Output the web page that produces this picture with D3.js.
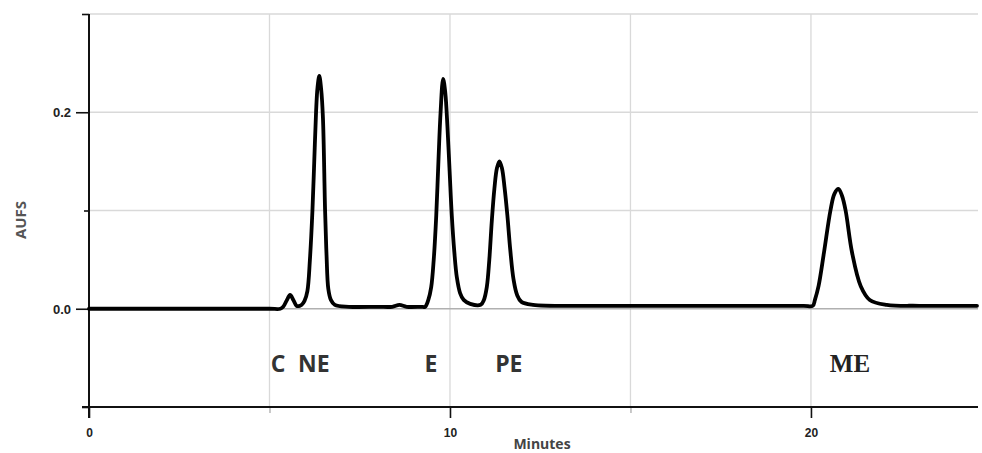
<!DOCTYPE html>
<html>
<head>
<meta charset="utf-8">
<script src="https://cdn.jsdelivr.net/npm/d3@7"></script>
<style>
  html, body { margin: 0; padding: 0; background: #fff; }
  svg { display: block; }
</style>
</head>
<body>
<svg id="chart" width="982" height="453"></svg>
<script>
// ---- Data ----
const traceMinutes = [
  0, 2.50, 5.00, 5.30, 5.38, 5.47, 5.57, 5.66, 5.75, 5.84, 5.89, 5.97, 6.05, 6.12, 6.19, 6.24, 6.29, 6.33, 6.38, 6.43, 6.48, 6.54, 6.58, 6.63, 6.70, 6.81, 7.20,
  8.00, 8.40, 8.60, 8.80, 9.20, 9.31, 9.40, 9.48, 9.55, 9.62, 9.68, 9.74, 9.81, 9.87, 9.93, 9.99, 10.05, 10.12, 10.19, 10.28, 10.38, 10.56, 10.85,
  10.94, 11.02, 11.09, 11.16, 11.23, 11.30, 11.37, 11.44, 11.51, 11.59, 11.67, 11.76, 11.86, 11.98, 12.30,
  14.00, 16.00, 18.00, 19.80, 20.05, 20.11, 20.21, 20.36, 20.54, 20.65, 20.76, 20.86, 20.96, 21.14, 21.38, 21.63, 22.10, 23.00, 24.60
];
const traceAUFS = [
  0.000, 0.000, 0.000, 0.000, 0.002, 0.008, 0.014, 0.009, 0.003, 0.003, 0.004, 0.008, 0.018, 0.050, 0.100, 0.150, 0.200, 0.225, 0.237, 0.224, 0.195, 0.100, 0.055, 0.020, 0.009, 0.004, 0.002,
  0.002, 0.002, 0.004, 0.002, 0.002, 0.002, 0.009, 0.022, 0.050, 0.095, 0.150, 0.200, 0.234, 0.220, 0.185, 0.140, 0.095, 0.058, 0.032, 0.016, 0.009, 0.005, 0.004,
  0.009, 0.022, 0.050, 0.090, 0.122, 0.143, 0.150, 0.143, 0.124, 0.095, 0.060, 0.030, 0.014, 0.007, 0.004,
  0.003, 0.003, 0.003, 0.003, 0.003, 0.009, 0.023, 0.057, 0.100, 0.117, 0.122, 0.115, 0.100, 0.057, 0.023, 0.009, 0.004, 0.003, 0.003
];
const peakLabels = ["C", "NE", "E", "PE", "ME"];
const peakLabelMinutes = [5.24, 6.23, 9.47, 11.63, 21.08];
const xTickValues = [0, 5, 10, 15, 20];
const xTickLabels = ["0", "", "10", "", "20"];
const yTickValues = [-0.1, 0.0, 0.1, 0.2, 0.3];
const yTickLabels = ["", "0.0", "", "0.2", ""];
const xGridValues = [5, 10, 15, 20];
const yGridValues = [0.0, 0.1, 0.2, 0.3];

// ---- Chart ----
const svg = d3.select("#chart");
const x = d3.scaleLinear().domain([0, 24.6]).range([89, 977]);
const y = d3.scaleLinear().domain([-0.1, 0.3]).range([407, 14]);
const xEnd = 978;

// gridlines
svg.append("g").selectAll("line").data(xGridValues).join("line")
  .attr("x1", d => x(d)).attr("x2", d => x(d))
  .attr("y1", y(0.3)).attr("y2", y(-0.1))
  .attr("stroke", "#d9d9d9").attr("stroke-width", 1.3);
svg.append("g").selectAll("line").data(yGridValues).join("line")
  .attr("x1", x(0)).attr("x2", xEnd)
  .attr("y1", d => y(d)).attr("y2", d => y(d))
  .attr("stroke", d => d === 0 ? "#b0b0b0" : "#d9d9d9").attr("stroke-width", 1.3);

// axes
const xAxis = d3.axisBottom(x).tickValues(xTickValues)
  .tickFormat((d, i) => xTickLabels[i]).tickSize(0).tickPadding(0);
const gx = svg.append("g").attr("transform", `translate(0,${y(-0.1)})`).call(xAxis);
gx.select(".domain").remove();
gx.selectAll(".tick line").remove();
gx.selectAll(".tick").append("line")
  .attr("y1", 0).attr("y2", (d, i) => xTickLabels[i] ? 11 : 6)
  .attr("stroke", (d, i) => xTickLabels[i] ? "#111" : "#bbb")
  .attr("stroke-width", 1.6);
gx.selectAll(".tick text")
  .attr("dy", 0).attr("y", 30)
  .attr("font-family", "'Liberation Sans', Arial, sans-serif")
  .attr("font-weight", "bold").attr("font-size", 12).attr("fill", "#222");
svg.append("line").attr("x1", 82).attr("x2", xEnd)
  .attr("y1", y(-0.1)).attr("y2", y(-0.1))
  .attr("stroke", "#111").attr("stroke-width", 2);

const yAxis = d3.axisLeft(y).tickValues(yTickValues)
  .tickFormat((d, i) => yTickLabels[i]).tickSize(0).tickPadding(0);
const gy = svg.append("g").attr("transform", `translate(${x(0)},0)`).call(yAxis);
gy.select(".domain").remove();
gy.selectAll(".tick line").remove();
gy.selectAll(".tick").append("line")
  .attr("x1", 0).attr("x2", (d, i) => yTickLabels[i] ? -13 : (i === 2 ? -5 : -7))
  .attr("stroke", "#111").attr("stroke-width", 1.6);
gy.selectAll(".tick text")
  .attr("x", -18).attr("dy", "0.35em")
  .attr("font-family", "'Liberation Sans', Arial, sans-serif")
  .attr("font-weight", "bold").attr("font-size", 13).attr("fill", "#222");
svg.append("line").attr("x1", x(0)).attr("x2", x(0))
  .attr("y1", y(0.3)).attr("y2", y(-0.1) + 11)
  .attr("stroke", "#111").attr("stroke-width", 2);

// axis titles
svg.append("text").text("Minutes")
  .attr("x", 542).attr("y", 449).attr("text-anchor", "middle")
  .attr("font-family", "'Open Sans', sans-serif").attr("font-weight", "bold")
  .attr("font-size", 14).attr("fill", "#444");
svg.append("text").text("AUFS")
  .attr("transform", "translate(26,220) rotate(-90)").attr("text-anchor", "middle")
  .attr("font-family", "'Open Sans', sans-serif").attr("font-weight", "bold")
  .attr("font-size", 15).attr("fill", "#555");

// trace
const pts = traceMinutes.map((t, i) => [t, traceAUFS[i]]);
const line = d3.line().x(d => x(d[0])).y(d => y(d[1])).curve(d3.curveCatmullRom.alpha(0.5));
svg.append("path").datum(pts).attr("d", line)
  .attr("fill", "none").attr("stroke", "#000").attr("stroke-width", 3.8)
  .attr("stroke-linejoin", "round").attr("stroke-linecap", "round");

// peak labels
svg.append("g").selectAll("text").data(peakLabels).join("text")
  .text(d => d)
  .attr("x", (d, i) => x(peakLabelMinutes[i]))
  .attr("y", y(-0.064))
  .attr("text-anchor", "middle")
  .attr("font-family", d => d === "ME" ? "'Liberation Serif', 'Times New Roman', serif" : "'Open Sans', sans-serif")
  .attr("font-weight", "bold")
  .attr("font-size", d => d === "ME" ? 25 : 23)
  .attr("fill", d => d === "ME" ? "#222" : "#333");
</script>
</body>
</html>
